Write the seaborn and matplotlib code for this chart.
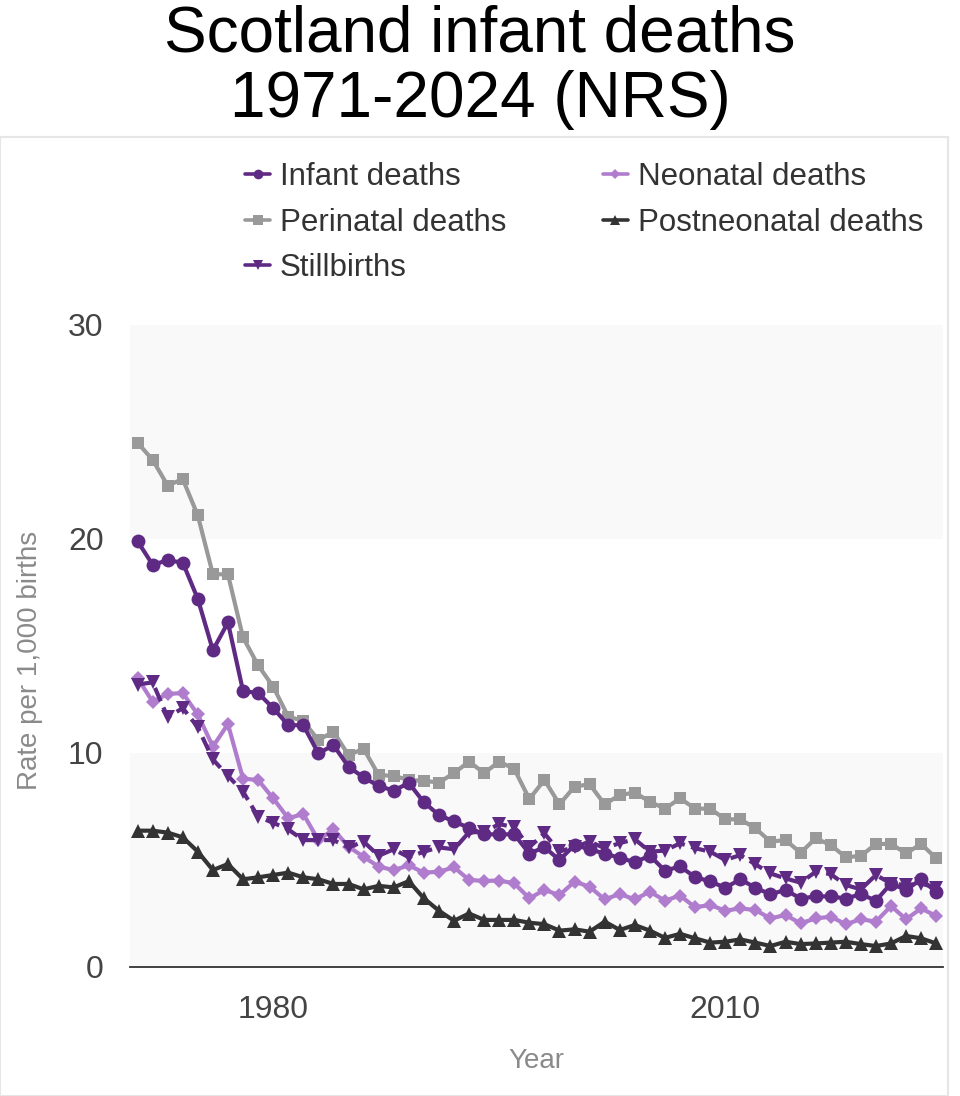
import numpy as np
import pandas as pd
import matplotlib
matplotlib.use("Agg")
import matplotlib.pyplot as plt
from matplotlib.lines import Line2D
from matplotlib.patches import Rectangle
import seaborn as sns

years = list(range(1971, 2025))

infant = [19.9, 18.8, 19.0, 18.9, 17.2, 14.8, 16.1, 12.9, 12.8, 12.1,
          11.3, 11.3, 9.98, 10.37, 9.36, 8.86, 8.46, 8.24, 8.6, 7.7,
          7.1, 6.8, 6.5, 6.2, 6.2, 6.2, 5.3, 5.6, 5.0, 5.7,
          5.5, 5.3, 5.1, 4.9, 5.2, 4.5, 4.7, 4.2, 4.0, 3.7,
          4.1, 3.7, 3.4, 3.6, 3.2, 3.3, 3.3, 3.2, 3.4, 3.1,
          3.9, 3.6, 4.1, 3.5]

perinatal = [24.5, 23.7, 22.5, 22.8, 21.1, 18.35, 18.35, 15.4, 14.1, 13.1,
             11.7, 11.5, 10.6, 11.0, 9.9, 10.2, 8.97, 8.93, 8.74, 8.7,
             8.62, 9.06, 9.6, 9.06, 9.6, 9.25, 7.85, 8.74, 7.6, 8.43,
             8.54, 7.6, 8.04, 8.15, 7.72, 7.4, 7.88, 7.4, 7.4, 6.9,
             6.9, 6.48, 5.86, 5.93, 5.34, 6.01, 5.7, 5.13, 5.19, 5.75,
             5.75, 5.31, 5.75, 5.08]

stillbirths = [13.2, 13.3, 11.67, 12.1, 11.2, 9.7, 8.93, 8.2, 7.02, 6.74,
               6.43, 5.93, 5.93, 5.93, 5.59, 5.86, 5.2, 5.5, 5.13, 5.39,
               5.59, 5.5, 6.3, 6.3, 6.68, 6.53, 5.6, 6.24, 5.4, 5.6,
               5.86, 5.55, 5.79, 5.97, 5.39, 5.44, 5.78, 5.55, 5.39, 5.0,
               5.23, 4.8, 4.37, 4.14, 3.94, 4.45, 4.34, 3.83, 3.63, 4.3,
               3.9, 3.83, 3.9, 3.7]

neonatal = [13.5, 12.4, 12.76, 12.8, 11.8, 10.3, 11.35, 8.8, 8.74, 7.88,
            6.95, 7.15, 5.93, 6.43, 5.62, 5.15, 4.69, 4.53, 4.75, 4.41,
            4.45, 4.66, 4.07, 4.02, 4.04, 3.91, 3.21, 3.6, 3.36, 3.99,
            3.75, 3.16, 3.41, 3.16, 3.52, 3.1, 3.34, 2.79, 2.9, 2.63,
            2.74, 2.66, 2.27, 2.43, 2.04, 2.27, 2.35, 2.0, 2.23, 2.12,
            2.85, 2.23, 2.74, 2.38]

postneonatal = [6.37, 6.37, 6.28, 6.06, 5.39, 4.53, 4.81, 4.1, 4.19, 4.3,
                4.41, 4.19, 4.1, 3.88, 3.88, 3.63, 3.79, 3.72, 4.01, 3.21,
                2.63, 2.16, 2.5, 2.2, 2.2, 2.2, 2.07, 2.0, 1.7, 1.76,
                1.65, 2.12, 1.73, 1.96, 1.7, 1.36, 1.55, 1.34, 1.14, 1.18,
                1.29, 1.14, 0.98, 1.18, 1.07, 1.1, 1.14, 1.18, 1.07, 0.98,
                1.1, 1.45, 1.34, 1.1]

x_ticks = [1980, 2010]
y_ticks = [0, 10, 20, 30]

sns.set_style("white")
plt.rcParams['font.family'] = ['Liberation Sans', 'DejaVu Sans']

fig = plt.figure(figsize=(9.6, 10.96), dpi=100)
# outer light frame
fig.patches.append(Rectangle((0, 0), 948 / 960, 1 - 137 / 1096, transform=fig.transFigure,
                             fill=False, edgecolor='#e6e6e6', linewidth=1.5))

ax = fig.add_axes([130 / 960, 1 - 967 / 1096, 813 / 960, 642 / 1096])
ax.set_facecolor('white')

C_INF = '#5f2a84'
C_NEO = '#b07ccd'
C_PER = '#999999'
C_POST = '#333333'

series = [
    ("Perinatal deaths", perinatal, C_PER, 's', 9, '-'),
    ("Infant deaths", infant, C_INF, 'o', 10, '-'),
    ("Neonatal deaths", neonatal, C_NEO, 'D', 7, '-'),
    ("Stillbirths", stillbirths, C_INF, 'v', 10, '--'),
    ("Postneonatal deaths", postneonatal, C_POST, '^', 10, '-'),
]

for name, vals, col, mk, ms, ls in series:
    df = pd.DataFrame({"Year": years, "Rate": vals})
    sns.lineplot(data=df, x="Year", y="Rate", ax=ax, color=col, marker=mk,
                 markersize=ms, markeredgewidth=0, linewidth=3.0, linestyle=ls,
                 legend=False, zorder=3)
    if ls == '--':
        ax.lines[-1].set_dashes((3.5, 1.6))

ax.set_xlim(1970.5, 2024.45)
ax.set_ylim(0, 30)

# alternating bands
ax.axhspan(0, 10, color='#f9f9f9', zorder=0, lw=0)
ax.axhspan(20, 30, color='#f9f9f9', zorder=0, lw=0)

for s in ['top', 'right', 'left']:
    ax.spines[s].set_visible(False)
ax.spines['bottom'].set_color('#333333')
ax.spines['bottom'].set_linewidth(1.3)

ax.set_xticks(x_ticks)
ax.set_xticklabels([str(t) for t in x_ticks])
ax.set_yticks(y_ticks)
ax.set_yticklabels([str(t) for t in y_ticks])
ax.tick_params(axis='x', length=10, width=1.3, color='#333333', labelsize=23,
               labelcolor='#444444', pad=10)
ax.tick_params(axis='y', length=0, labelsize=23, labelcolor='#444444', pad=19)

ax.set_xlabel("Year", fontsize=20, color='#8a8a8a', labelpad=17)
ax.set_ylabel("Rate per 1,000 births", fontsize=20, color='#8a8a8a')
ax.yaxis.set_label_coords(-0.107, 0.478)

# legend
handles = [
    Line2D([], [], color=C_INF, marker='o', markersize=7, linewidth=2.6, markeredgewidth=0),
    Line2D([], [], color=C_PER, marker='s', markersize=7, linewidth=2.6, markeredgewidth=0),
    Line2D([], [], color=C_INF, marker='v', markersize=7.5, linewidth=2.6, markeredgewidth=0),
    Line2D([], [], color=C_NEO, marker='D', markersize=5.5, linewidth=2.6, markeredgewidth=0),
    Line2D([], [], color=C_POST, marker='^', markersize=7.5, linewidth=2.6, markeredgewidth=0),
]
labels = ["Infant deaths", "Perinatal deaths", "Stillbirths", "Neonatal deaths", "Postneonatal deaths"]
leg = fig.legend(handles, labels, loc='upper left', bbox_to_anchor=(245 / 960, 1 - 162 / 1096),
                 ncol=2, frameon=False, fontsize=22.5, handlelength=0.8, handletextpad=0.32,
                 columnspacing=3.08, labelspacing=0.5, borderaxespad=0, borderpad=0)
for t in leg.get_texts():
    t.set_color('#333333')

fig.text(0.5, 1 - 35 / 1096, "Scotland infant deaths", ha='center', va='center',
         fontsize=46, color='black')
fig.text(0.5, 1 - 100 / 1096, "1971-2024 (NRS)", ha='center', va='center',
         fontsize=46, color='black')

fig.savefig("out.png", dpi=100)
